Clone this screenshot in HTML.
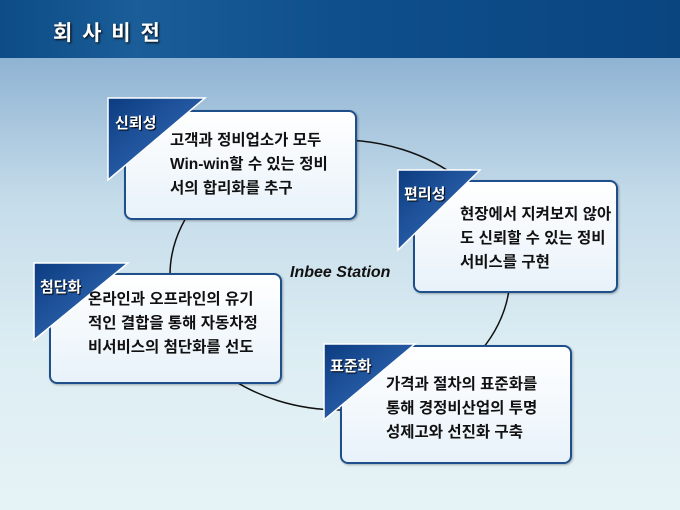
<!DOCTYPE html>
<html><head><meta charset="utf-8"><style>
body{margin:0;width:680px;height:510px;overflow:hidden;position:relative;font-family:"Liberation Sans","Noto Sans CJK KR",sans-serif;
background:linear-gradient(180deg,#8fb3d3 58px,#c5dcea 200px,#dcedf3 350px,#e6f3f6 510px);}
.hdr{position:absolute;left:0;top:0;width:680px;height:58px;background:linear-gradient(90deg,#0d4c86,#1a5d98 20%,#0e4f8c 50%,#0a4580);}
.hdr span{position:absolute;left:53px;top:17px;color:#fff;font-size:21px;font-weight:bold;letter-spacing:2px;text-shadow:1px 1px 2px #000}
.box{position:absolute;border:2px solid #1e4f8a;border-radius:8px;background:linear-gradient(180deg,#fff,#e8f2fa);box-shadow:1px 1px 2px rgba(0,0,0,.3)}
.t{position:absolute;font-size:15.5px;font-weight:bold;line-height:24px;color:#111;white-space:nowrap}
.lab{position:absolute;color:#fff;font-size:15px;font-weight:bold;text-shadow:1px 1px 1px #000}
</style></head><body>
<div class="hdr"><span>회 사 비 전</span></div>
<svg width="680" height="510" style="position:absolute;left:0;top:0">
<ellipse cx="340" cy="275" rx="170" ry="135" fill="none" stroke="#111" stroke-width="1.5"/>
</svg>
<div class="box" style="left:124px;top:110px;width:229px;height:106px"></div>
<div class="box" style="left:413px;top:180px;width:201px;height:109px"></div>
<div class="box" style="left:49px;top:273px;width:229px;height:107px"></div>
<div class="box" style="left:340px;top:345px;width:228px;height:115px"></div>
<svg width="680" height="510" style="position:absolute;left:0;top:0">
<defs><linearGradient id="g" x1="0" y1="0" x2="1" y2="1"><stop offset="0" stop-color="#0c3c80"/><stop offset="1" stop-color="#3b75c4"/></linearGradient></defs>
<polygon points="108,98 205,98 108,180" fill="url(#g)" stroke="#fff" stroke-width="1.5"/>
<polygon points="398,170 480,170 398,250" fill="url(#g)" stroke="#fff" stroke-width="1.5"/>
<polygon points="34,263 128,263 34,340" fill="url(#g)" stroke="#fff" stroke-width="1.5"/>
<polygon points="324,344 415,344 324,420" fill="url(#g)" stroke="#fff" stroke-width="1.5"/>
</svg>
<div class="lab" style="left:115px;top:112px">신뢰성</div>
<div class="lab" style="left:404px;top:183px">편리성</div>
<div class="lab" style="left:40px;top:276px">첨단화</div>
<div class="lab" style="left:330px;top:355px">표준화</div>
<div class="t" style="left:170px;top:129px">고객과 정비업소가 모두<br>Win-win할 수 있는 정비<br>서의 합리화를 추구</div>
<div class="t" style="left:460px;top:203px">현장에서 지켜보지 않아<br>도 신뢰할 수 있는 정비<br>서비스를 구현</div>
<div class="t" style="left:88px;top:288px">온라인과 오프라인의 유기<br>적인 결합을 통해 자동차정<br>비서비스의 첨단화를 선도</div>
<div class="t" style="left:386px;top:373px">가격과 절차의 표준화를<br>통해 경정비산업의 투명<br>성제고와 선진화 구축</div>
<div style="position:absolute;left:290px;top:264px;font-size:16px;font-weight:bold;font-style:italic;color:#111">Inbee Station</div>
</body></html>
